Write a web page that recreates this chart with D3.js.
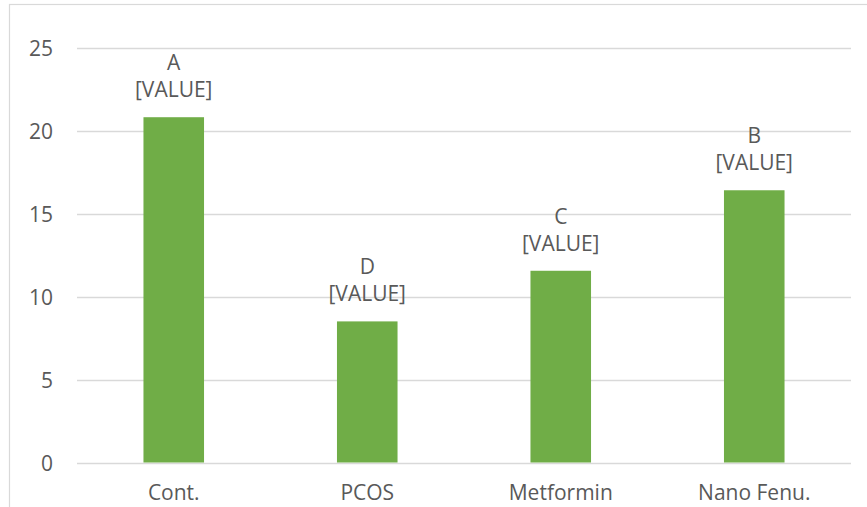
<!DOCTYPE html>
<html>
<head>
<meta charset="utf-8">
<script src="https://cdn.jsdelivr.net/npm/d3@7"></script>
<style>
  html, body { margin: 0; padding: 0; background: #fff; }
  svg text { font-family: "Open Sans", "Liberation Sans", sans-serif; fill: #595959; }
</style>
</head>
<body>
<svg id="chart" width="867" height="507"></svg>
<script>
// Chart data
const categories = ["Cont.", "PCOS", "Metformin", "Nano Fenu."];
const values = [20.8, 8.5, 11.55, 16.4];
const groupLetters = ["A", "D", "C", "B"];
const valueLabels = ["[VALUE]", "[VALUE]", "[VALUE]", "[VALUE]"];
const yTicks = [0, 5, 10, 15, 20, 25];

const svg = d3.select("#chart");
const W = 867, H = 507;
const plot = { left: 77, right: 851, top: 47.5, bottom: 462.5 };
const FONT = 21;

// Outer chart frame (top and left edges visible)
svg.append("rect")
  .attr("x", 9.5).attr("y", 4.5)
  .attr("width", W + 10).attr("height", H + 10)
  .attr("fill", "none").attr("stroke", "#d9d9d9").attr("stroke-width", 1.2);

const x = d3.scaleBand()
  .domain(categories)
  .range([plot.left, plot.right])
  .paddingInner(0.687)
  .paddingOuter(0.3435);

const y = d3.scaleLinear().domain([0, 25]).range([plot.bottom, plot.top]);

// Horizontal gridlines
svg.append("g")
  .selectAll("line")
  .data(yTicks)
  .join("line")
  .attr("x1", plot.left).attr("x2", plot.right)
  .attr("y1", d => Math.round(y(d)) + 0.5).attr("y2", d => Math.round(y(d)) + 0.5)
  .attr("stroke", "#d9d9d9").attr("stroke-width", 1.3);

// Y axis tick labels
const yAxis = d3.axisLeft(y).tickValues(yTicks).tickSize(0).tickPadding(0);
const gy = svg.append("g").attr("transform", `translate(53,0)`).call(yAxis);
gy.select(".domain").remove();
gy.selectAll("text")
  .attr("font-size", FONT)
  .attr("dy", "0.36em")
  .attr("fill", "#595959")
  .style("font-family", '"Open Sans", "Liberation Sans", sans-serif');

// Bars
svg.append("g")
  .selectAll("rect")
  .data(values)
  .join("rect")
  .attr("x", (d, i) => x(categories[i]))
  .attr("y", d => y(d))
  .attr("width", x.bandwidth())
  .attr("height", d => y(0) - y(d))
  .attr("fill", "#70ad47");

// Bar labels: group letter above the value placeholder
const labels = svg.append("g");
values.forEach((v, i) => {
  const cx = x(categories[i]) + x.bandwidth() / 2;
  labels.append("text")
    .attr("x", cx).attr("y", y(v) - 47)
    .attr("text-anchor", "middle").attr("font-size", FONT)
    .attr("fill", "#4a4a4a")
    .text(groupLetters[i]);
  labels.append("text")
    .attr("x", cx).attr("y", y(v) - 20)
    .attr("text-anchor", "middle").attr("font-size", FONT)
    .attr("fill", "#4a4a4a")
    .text(valueLabels[i]);
});

// X axis category labels
const xAxis = d3.axisBottom(x).tickSize(0).tickPadding(0);
const gx = svg.append("g").attr("transform", `translate(0,500)`).call(xAxis);
gx.select(".domain").remove();
gx.selectAll("text")
  .attr("font-size", FONT)
  .attr("dy", "0")
  .attr("y", 0)
  .attr("fill", "#595959")
  .style("font-family", '"Open Sans", "Liberation Sans", sans-serif');
</script>
</body>
</html>
